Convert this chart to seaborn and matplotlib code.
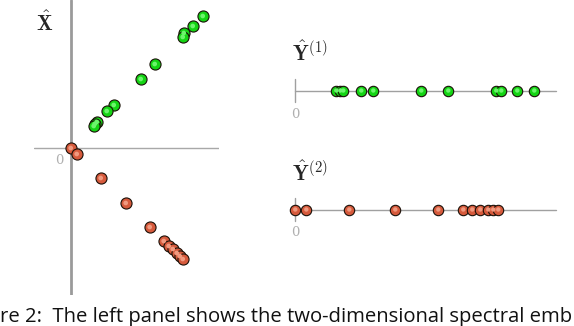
import numpy as np
import pandas as pd
import matplotlib
matplotlib.use("Agg")
import matplotlib.pyplot as plt
import seaborn as sns

# ---- data ----
green_x = [1.32, 1.22, 1.13, 1.12, 0.84, 0.70, 0.43, 0.36, 0.26, 0.24, 0.23]
green_y = [1.32, 1.22, 1.15, 1.11, 0.84, 0.69, 0.43, 0.37, 0.26, 0.24, 0.22]
red_x = [0.00, 0.06, 0.30, 0.55, 0.79, 0.93, 0.98, 1.02, 1.06, 1.09, 1.12]
red_y = [0.00, -0.06, -0.30, -0.55, -0.79, -0.93, -0.98, -1.01, -1.05, -1.08, -1.11]
y1_green = [0.41, 0.45, 0.48, 0.66, 0.78, 1.26, 1.53, 2.01, 2.06, 2.22, 2.39]
y2_red = [0.00, 0.11, 0.54, 1.00, 1.43, 1.68, 1.77, 1.85, 1.93, 1.98, 2.03]
caption = "re 2:  The left panel shows the two-dimensional spectral emb"

sns.set_style("white")
plt.rcParams["mathtext.fontset"] = "cm"

W, H = 574, 326
fig = plt.figure(figsize=(W / 100, H / 100), dpi=100)

def px_axes(x0, y0, x1, y1):
    return fig.add_axes([x0 / W, 1 - y1 / H, (x1 - x0) / W, (y1 - y0) / H])

GREEN, GREEN_HI = "#14d414", "#6cf56c"
RED, RED_HI = "#d65a3c", "#f09a80"

def balls(ax, x, y, col, hi, s=64):
    df = pd.DataFrame({"x": x, "y": y})
    sns.scatterplot(data=df, x="x", y="y", ax=ax, s=s, color=col,
                    edgecolor="#1a1008", linewidth=0.8, zorder=3, legend=False)
    sns.scatterplot(data=df, x="x", y="y", ax=ax, s=s * 0.18, color=hi,
                    edgecolor="none", linewidth=0, zorder=4, legend=False)

# ---- left panel ----
ax = px_axes(34, 0, 219, 295)
ax.set_xlim(-0.367, 1.483)
ax.set_ylim(-1.47, 1.48)
ax.axvline(0, color="#9a9a9a", lw=2.0, zorder=1)
ax.axhline(0, color="#a8a8a8", lw=1.0, zorder=1)
balls(ax, green_x, green_y, GREEN, GREEN_HI)
balls(ax, red_x, red_y, RED, RED_HI)
ax.set_axis_off()

# ---- right panels ----
def strip(y0, y1, vals, col, hi):
    a = px_axes(285, y0, 560, y1)
    a.set_xlim(-0.103, 2.647)
    a.set_ylim(-1, 1)
    a.plot([0, 2.607], [0, 0], color="#a0a0a0", lw=1.0, zorder=1)
    a.plot([0, 0], [-0.5, 0.5], color="#a0a0a0", lw=1.0, zorder=1)
    balls(a, vals, [0] * len(vals), col, hi, s=56)
    a.set_axis_off()
    return a

strip(68, 113, y1_green, GREEN, GREEN_HI)
strip(187, 232, y2_red, RED, RED_HI)

# ---- texts ----
fig.text(36 / W, 1 - 23 / H, r"$\hat{\mathbf{X}}$", fontsize=15, va="center", ha="left")
fig.text(292 / W, 1 - 53 / H, r"$\hat{\mathbf{Y}}^{(1)}$", fontsize=15, va="center", ha="left")
fig.text(292 / W, 1 - 173 / H, r"$\hat{\mathbf{Y}}^{(2)}$", fontsize=15, va="center", ha="left")
for (x, y) in [(59, 161), (295, 115), (295, 232)]:
    fig.text(x / W, 1 - y / H, "0", fontsize=9.5, color="#b0b0b0",
             family="DejaVu Serif", ha="center", va="center")
fig.text(0 / W, 1 - 322 / H, caption, fontsize=14.6, family="Open Sans",
         ha="left", va="baseline", color="#111111")

fig.savefig("out.png", dpi=100)
